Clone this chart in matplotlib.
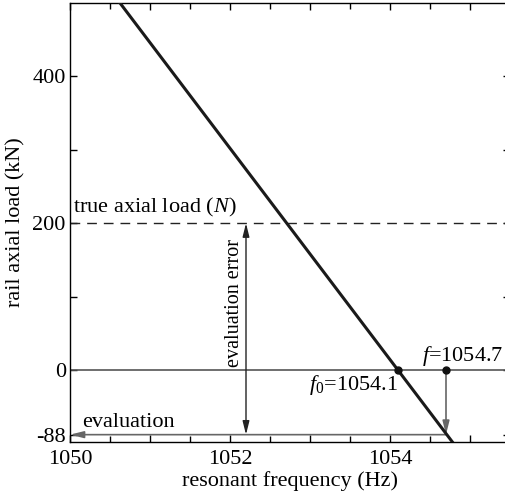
import matplotlib
matplotlib.use("Agg")
import matplotlib.pyplot as plt
from matplotlib.ticker import MultipleLocator, FuncFormatter

# data
line_x = [1050.625, 1054.78]
line_y = [500, -98]
f0 = 1054.1
f = 1054.7
true_load = 200
eval_load = -88
err_x = 1052.2
yticks = [-88, 0, 100, 200, 300, 400]
ytick_labels = ["-88", "0", "", "200", "", "400"]

plt.rcParams['font.family'] = ['Liberation Serif', 'DejaVu Serif']
plt.rcParams['mathtext.fontset'] = 'custom'
plt.rcParams['mathtext.it'] = 'Liberation Serif:italic'
plt.rcParams['mathtext.rm'] = 'Liberation Serif'
fs = 16

fig = plt.figure(figsize=(5.06, 4.96), dpi=100)
ax = fig.add_axes([70/506, (496-442)/496, (510-70)/506, (442-3)/496])
ax.set_xlim(1050, 1055.5)
ax.set_ylim(-98, 500)

ax.plot(line_x, line_y, color='#1a1a1a', lw=2.2, zorder=4)
ax.axhline(0, color='#555555', lw=1.2, zorder=2)
ax.axhline(true_load, color='#222222', lw=1.0, dashes=(7, 5), zorder=2)
ax.plot([f0, f], [0, 0], 'o', color='#111111', ms=5, zorder=5)

gray = '#666666'
head = 'head_width=0.2,head_length=0.8'
ax.annotate('', xy=(f, eval_load), xytext=(f, 0),
            arrowprops=dict(arrowstyle='-|>,' + head, color=gray, lw=1.2,
                            mutation_scale=10, shrinkA=0, shrinkB=0))
ax.annotate('', xy=(1050, eval_load), xytext=(f, eval_load),
            arrowprops=dict(arrowstyle='-|>,' + head, color=gray, lw=1.2,
                            mutation_scale=10, shrinkA=0, shrinkB=0))
ax.annotate('', xy=(err_x, eval_load), xytext=(err_x, true_load),
            arrowprops=dict(arrowstyle='<|-|>,' + head, color='#222222', lw=1.0,
                            mutation_scale=10, shrinkA=0, shrinkB=0))

ax.text(1050.04, 206, 'true axial load ($N$)', fontsize=fs, ha='left', va='bottom')
ax.text(1050.15, -84, 'evaluation', fontsize=fs, ha='left', va='bottom')
ax.text(err_x - 0.03, 92, 'evaluation error', fontsize=14.5, rotation=90,
        ha='right', va='center')
ax.text(1055.41, 3, '$f$=1054.7', fontsize=fs, ha='right', va='bottom')
ax.text(1054.1, -4, '$f_0$=1054.1', fontsize=fs, ha='right', va='top')

ax.xaxis.set_major_locator(MultipleLocator(1))
ax.xaxis.set_minor_locator(MultipleLocator(0.5))
ax.xaxis.set_major_formatter(FuncFormatter(lambda v, p: f"{int(round(v))}" if int(round(v)) % 2 == 0 else ""))
ax.set_yticks(yticks)
ax.set_yticklabels(ytick_labels)
ax.tick_params(axis='both', which='both', direction='in', top=True, right=True,
               labelsize=fs, width=1)
ax.tick_params(axis='x', which='major', pad=6)
ax.tick_params(axis='y', which='major', pad=3)
ax.tick_params(axis='both', which='major', length=5)
ax.tick_params(axis='both', which='minor', length=4)
for s in ax.spines.values():
    s.set_linewidth(1.0)

ax.set_xlabel('resonant frequency (Hz)', fontsize=fs, labelpad=1)
ax.set_ylabel('rail axial load (kN)', fontsize=fs, labelpad=5)

fig.savefig('out.png', dpi=100)
